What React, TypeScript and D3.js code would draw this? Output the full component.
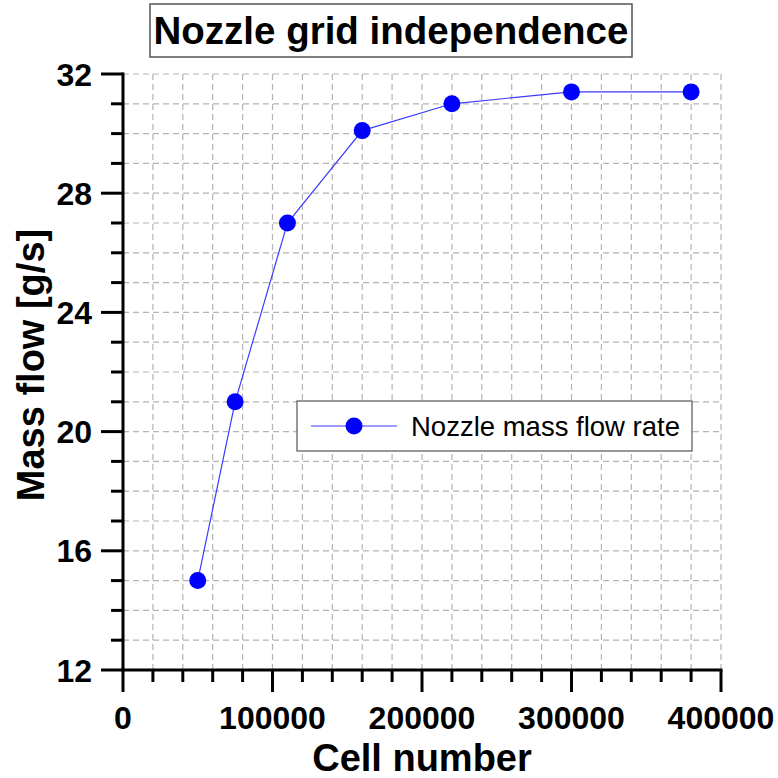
import React from "react";
import * as d3 from "d3";

// Grid-independence study: nozzle mass flow versus mesh size
const cellCounts = [50000, 75000, 110000, 160000, 220000, 300000, 380000];
const massFlow = [15, 21, 27, 30.1, 31, 31.4, 31.4];
const xTicks = [0, 100000, 200000, 300000, 400000];
const yTicks = [12, 16, 20, 24, 28, 32];

const W = 778;
const H = 778;
const font = "'Liberation Sans', Arial, Helvetica, sans-serif";

export default function App() {
  const x = d3.scaleLinear().domain([0, 400000]).range([123, 721]);
  const y = d3.scaleLinear().domain([12, 32]).range([670, 74]);

  const xMinor = d3.range(0, 400001, 20000);
  const yMinor = d3.range(12, 32.001, 1);

  const line = d3
    .line<number>()
    .x((_, i) => x(cellCounts[i]))
    .y((d) => y(d));

  const [x0, x1] = x.range();
  const [yb, yt] = y.range();

  return (
    <svg
      width={W}
      height={H}
      style={{ position: "absolute", left: 0, top: 0, background: "#fff" }}
      fontFamily={font}
    >
      {/* title */}
      <rect x={150} y={4} width={482} height={53} fill="#fff" stroke="#555" strokeWidth={1.5} />
      <text x={391} y={44} textAnchor="middle" fontSize={38.5} fontWeight="bold" fill="#000">
        Nozzle grid independence
      </text>

      {/* dashed grid */}
      <g stroke="#b4b4b4" strokeWidth={1.2} strokeDasharray="6,4">
        {xMinor
          .filter((v) => v > 0)
          .map((v) => (
            <line key={"gx" + v} x1={x(v)} x2={x(v)} y1={yb} y2={yt} />
          ))}
        {yMinor
          .filter((v) => v > 12)
          .map((v) => (
            <line key={"gy" + v} x1={x0} x2={x1} y1={y(v)} y2={y(v)} />
          ))}
      </g>

      {/* axes */}
      <g stroke="#000" strokeWidth={3} strokeLinecap="butt">
        <line x1={x0} x2={x0} y1={yt - 1.5} y2={yb + 1.5} />
        <line x1={x0 - 1.5} x2={x1 + 1.5} y1={yb} y2={yb} />
        {xMinor.map((v) => {
          const major = v % 100000 === 0;
          return <line key={"tx" + v} x1={x(v)} x2={x(v)} y1={yb} y2={yb + (major ? 22 : 12)} />;
        })}
        {yMinor.map((v) => {
          const major = v % 4 === 0;
          return <line key={"ty" + v} x1={x0 - (major ? 22 : 12)} x2={x0} y1={y(v)} y2={y(v)} />;
        })}
      </g>

      {/* tick labels */}
      <g fontSize={32} fontWeight="bold" fill="#000">
        {xTicks.map((v) => (
          <text key={"lx" + v} x={x(v)} y={729} textAnchor="middle">
            {v}
          </text>
        ))}
        {yTicks.map((v) => (
          <text key={"ly" + v} x={92} y={y(v) + 11.5} textAnchor="end">
            {v}
          </text>
        ))}
      </g>

      {/* axis titles */}
      <text x={422} y={771} textAnchor="middle" fontSize={38} fontWeight="bold" fill="#000">
        Cell number
      </text>
      <text
        transform={`translate(44, ${365}) rotate(-90)`}
        textAnchor="middle"
        fontSize={38}
        fontWeight="bold"
        fill="#000"
      >
        Mass flow [g/s]
      </text>

      {/* series */}
      <path d={line(massFlow) ?? ""} fill="none" stroke="#3c3cff" strokeWidth={1.2} />
      {massFlow.map((v, i) => (
        <circle key={"p" + i} cx={x(cellCounts[i])} cy={y(v)} r={8.5} fill="#0000ff" />
      ))}

      {/* legend */}
      <rect x={297} y={401} width={395} height={50} fill="#fff" stroke="#555" strokeWidth={1.2} />
      <line x1={311} x2={397} y1={426} y2={426} stroke="#3c3cff" strokeWidth={1.2} />
      <circle cx={354} cy={426} r={8.5} fill="#0000ff" />
      <text x={411} y={436} fontSize={27.5} fill="#000">
        Nozzle mass flow rate
      </text>
    </svg>
  );
}
